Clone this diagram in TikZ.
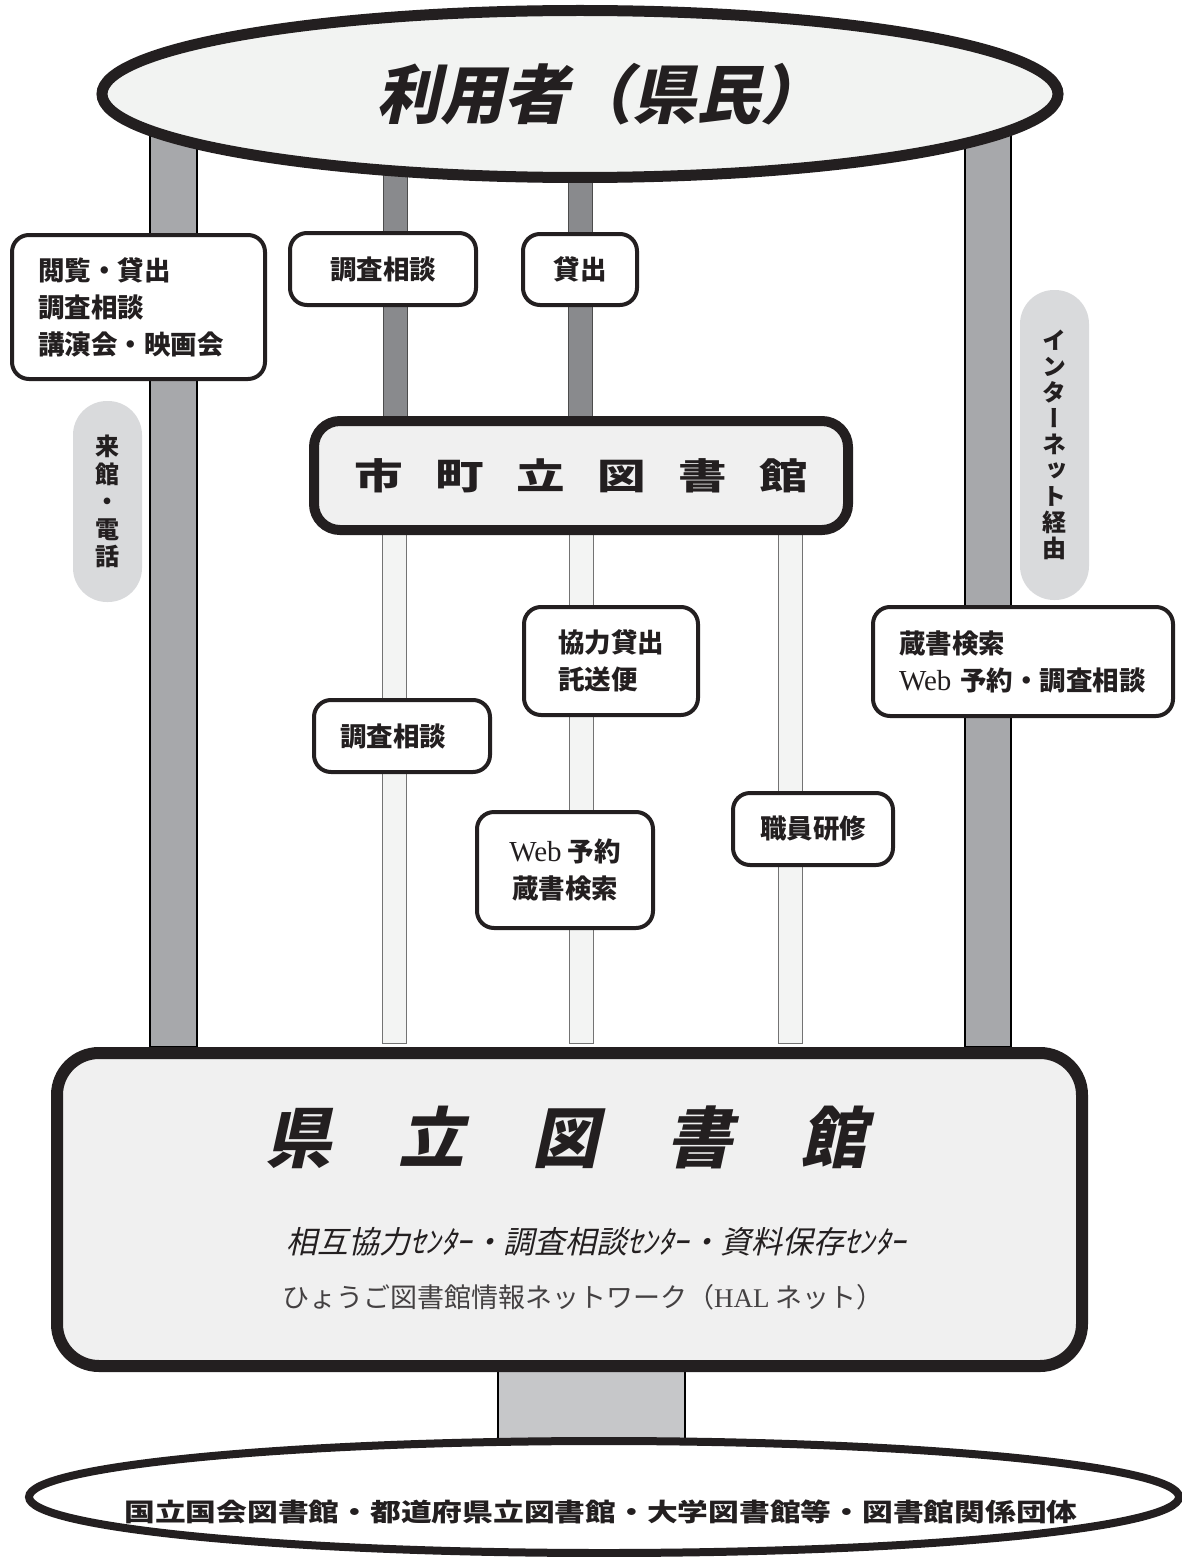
\documentclass[tikz,border=0pt]{standalone}
\usepackage{fontspec}
\usepackage{graphicx}
\setmainfont{Liberation Serif}
\newfontfamily\jp{Noto Sans CJK JP}
\newfontfamily\jpsl[FakeSlant=0.22]{Noto Sans CJK JP}
\newfontfamily\jpvt[RawFeature=+vert]{Noto Sans CJK JP}
\usepackage{xcolor}
\usepackage{tikz}
\usetikzlibrary{shapes.geometric, positioning, backgrounds}

\definecolor{ink}{HTML}{231F20}
\definecolor{postgray}{HTML}{A7A8AB}
\definecolor{postdark}{HTML}{898A8D}
\definecolor{postlight}{HTML}{F3F4F3}
\definecolor{boxfill}{HTML}{F0F0F0}
\definecolor{pillfill}{HTML}{D9DADC}
\definecolor{stemfill}{HTML}{C6C7C9}
\definecolor{ellfill}{HTML}{F2F3F2}

\newcommand{\web}{{\rmfamily\mdseries\fontsize{29}{29}\selectfont Web}}

\tikzset{
  smallbox/.style={draw=ink, line width=4pt, rounded corners=17pt, fill=white, inner sep=0pt, text=ink, font=\jp\bfseries\fontsize{26.5}{37}\selectfont},
  pill/.style={fill=pillfill, rounded corners=34pt, inner sep=0pt, minimum width=69pt, align=center, text=ink},
  bigpost/.style={fill=postgray, draw=black, line width=1.2pt},
  darkpost/.style={fill=postdark, draw=black!70, line width=0.6pt},
  lightpost/.style={fill=postlight, draw=black!55, line width=0.8pt},
  stemline/.style={fill=stemfill, draw=black, line width=1.2pt}
}

\begin{document}
\begin{tikzpicture}[x=1pt, y=-1pt]
    \useasboundingbox (0,0) rectangle (1181,1557);

    % users on top
    \node[ellipse, draw=ink, line width=11pt, fill=ellfill, minimum width=956pt, minimum height=167pt, inner sep=0pt, text=ink, font=\jpsl\bfseries\fontsize{64}{64}\selectfont] (users) at (580,94) {\hspace{40pt}利用者（県民）};

    % boxes on the posts
    \node[smallbox, minimum width=253pt, minimum height=144pt, text width=201pt, inner xsep=26pt, align=left] (visit) at (138.5,307) {閲覧・貸出\\調査相談\\講演会・映画会};
    \node[smallbox, minimum width=186pt, minimum height=72pt] (refup) at (383,269) {調査相談};
    \node[smallbox, minimum width=114pt, minimum height=71pt] (lendup) at (580,269.5) {貸出};
    \node[smallbox, minimum width=176pt, minimum height=72pt, text width=124pt, inner xsep=26pt, align=left] (refmid) at (402,736) {調査相談};
    \node[smallbox, minimum width=174pt, minimum height=108pt, text width=106pt, inner xsep=34pt, align=left] (coop) at (611,661) {協力貸出\\託送便};
    \node[smallbox, minimum width=176pt, minimum height=116pt, align=center] (webres) at (565,870) {\web{} 予約\\蔵書検索};
    \node[smallbox, minimum width=160pt, minimum height=72pt] (training) at (813,829) {職員研修};
    \node[smallbox, minimum width=300pt, minimum height=109pt, text width=248pt, inner xsep=26pt, align=left] (online) at (1023,661.5) {蔵書検索\\\web{} 予約・調査相談};

    % side labels
    \node[pill, minimum height=201pt, font=\jpvt\bfseries\fontsize{24}{27.5}\selectfont] (byvisit) at (107.5,501.5) {来\\館\\・\\電\\話};
    \node[pill, minimum height=310pt, font=\jpvt\bfseries\fontsize{24}{26}\selectfont] (bynet) at (1054.5,445) {イ\\ン\\タ\\ー\\ネ\\ッ\\ト\\経\\由};

    % municipal libraries
    \node[draw=ink, line width=10pt, rounded corners=26pt, fill=boxfill, minimum width=534pt, minimum height=109pt, inner sep=0pt, text=ink, font=\jp\bfseries\fontsize{36}{36}\selectfont] (city) at (581,475.5) {\scalebox{1.35}[1]{市\hspace{24pt}町\hspace{24pt}立\hspace{24pt}図\hspace{24pt}書\hspace{24pt}館}};

    % prefectural library
    \node[draw=ink, line width=12pt, rounded corners=42pt, fill=boxfill, minimum width=1025pt, minimum height=313pt] (pref) at (569.5,1209.5) {};
    \node[inner sep=0pt, text=ink, font=\jpsl\bfseries\fontsize{66}{66}\selectfont] (preftitle) at (566,1137) {県\hspace{68pt}立\hspace{68pt}図\hspace{68pt}書\hspace{68pt}館};
    \node[inner sep=0pt, text=ink, font=\jpsl\fontsize{31}{31}\selectfont] (centers) at (596,1242) {相互協力ｾﾝﾀｰ・調査相談ｾﾝﾀｰ・資料保存ｾﾝﾀｰ};
    \node[inner sep=0pt, text=ink!85, font=\jp\fontsize{27}{27}\selectfont] (halnet) at (583,1297) {ひょうご図書館情報ネットワーク（{\rmfamily HAL} ネット）};

    % national level
    \node[ellipse, draw=ink, line width=8pt, fill=white, minimum width=1150pt, minimum height=112pt] (natl) at (604,1497) {};
    \node[inner sep=0pt, text=ink, font=\jp\bfseries\fontsize{25}{25}\selectfont] (natltext) at (601,1512) {\scalebox{1.23}[1]{国立国会図書館・都道府県立図書館・大学図書館等・図書館関係団体}};

    % posts behind everything
    \begin{scope}[on background layer]
        \draw[bigpost] (150,0 |- users.center) rectangle (197,0 |- pref.north);
        \draw[bigpost] (965,0 |- users.center) rectangle (1011,0 |- pref.north);
        \foreach \x in {383,568} \draw[darkpost] (\x,0 |- users.center) rectangle (\x+24,0 |- city.center);
        \foreach \x in {382,569,778} \draw[lightpost] (\x,0 |- city.center) rectangle (\x+24,1043);
        \draw[stemline] (498,0 |- pref.center) rectangle (685,0 |- natl.center);
    \end{scope}
\end{tikzpicture}
\end{document}
